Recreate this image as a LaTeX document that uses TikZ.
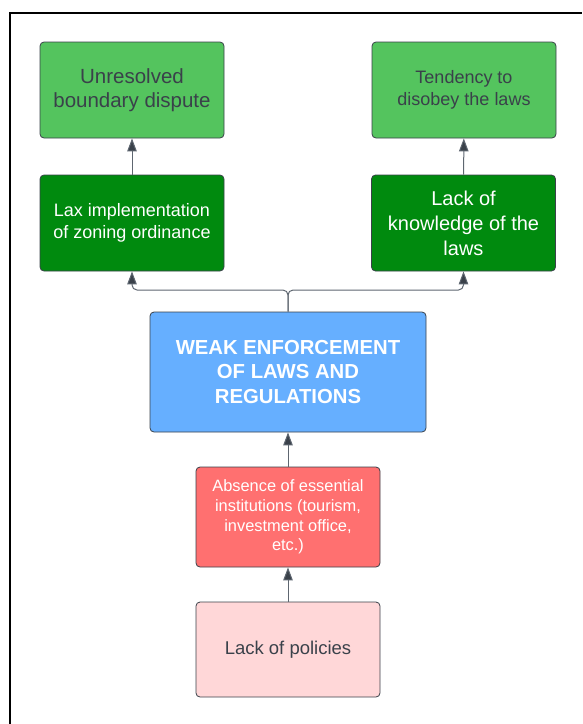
\documentclass[tikz,border=0pt]{standalone}
\usepackage{fontspec}
\setmainfont{Liberation Sans}
\usetikzlibrary{arrows.meta}
\definecolor{lightGreen}{HTML}{54C45E}
\definecolor{darkGreen}{HTML}{008A0E}
\definecolor{weakBlue}{HTML}{66AFFF}
\definecolor{causeRed}{HTML}{FF7070}
\definecolor{rootPink}{HTML}{FFD7D8}
\definecolor{edgeGray}{HTML}{3A414A}
\definecolor{lineGray}{HTML}{5E6670}

\begin{document}
\begin{tikzpicture}
[x=1pt,y=-1pt,
  boxDecorate/.style={shape=rectangle,rounded corners=4pt,draw=edgeGray,line width=0.8pt,
    align=center,inner sep=0pt},%
  lightDecorate/.style={boxDecorate,fill=lightGreen,text=edgeGray,
    minimum width=184pt,minimum height=96pt,font=\fontsize{20.5}{24}\selectfont},%
  darkDecorate/.style={boxDecorate,fill=darkGreen,text=white,
    minimum width=184pt,minimum height=96pt},%
  arrowDecorate/.style={draw=lineGray,line width=1pt,rounded corners=5pt,
    -{Triangle[length=13pt,width=9.5pt,fill=edgeGray]}}]
%%
%% page and frame
\useasboundingbox (0,0) rectangle (582,724);
\draw[line width=2pt,black] (10,724) -- (10,13) -- (582,13);
%%
%% effects
\node (unresolved) at (132,90) [lightDecorate] {Unresolved\\boundary dispute};
\node (tendency) at (464,90) [lightDecorate,font=\fontsize{18}{22}\selectfont] {Tendency to\\disobey the laws};
\node (lax) at (132,223) [darkDecorate,font=\fontsize{18}{22}\selectfont] {Lax implementation\\of zoning ordinance};
\node (knowledge) at (463.5,223) [darkDecorate,font=\fontsize{20}{25}\selectfont] {Lack of\\knowledge of the\\laws};
%%
%% core problem
\node (weak) at (288,372) [boxDecorate,fill=weakBlue,text=white,minimum width=276pt,
  minimum height=120pt,font=\fontsize{20.3}{24.5}\selectfont\bfseries]
  {WEAK ENFORCEMENT\\OF LAWS AND\\REGULATIONS};
%%
%% causes
\node (absence) at (288,517) [boxDecorate,fill=causeRed,text=white,minimum width=184pt,
  minimum height=100pt,font=\fontsize{16.4}{19.6}\selectfont]
  {Absence of essential\\institutions (tourism,\\investment office,\\etc.)};
\node (policies) at (288,649.5) [boxDecorate,fill=rootPink,text=edgeGray,minimum width=184pt,
  minimum height=95pt,font=\fontsize{18.5}{22}\selectfont] {Lack of policies};
%%
%% connectors
\coordinate (split) at (288,290);
\draw[arrowDecorate] (weak.north) -- (split) -| (lax.south);
\draw[arrowDecorate] (weak.north) -- (split) -| (knowledge.south);
\path
\foreach \startnode/\endnode in {lax/unresolved, knowledge/tendency, absence/weak, policies/absence}
{
  (\startnode) edge[arrowDecorate] (\endnode)
};
\end{tikzpicture}
\end{document}
